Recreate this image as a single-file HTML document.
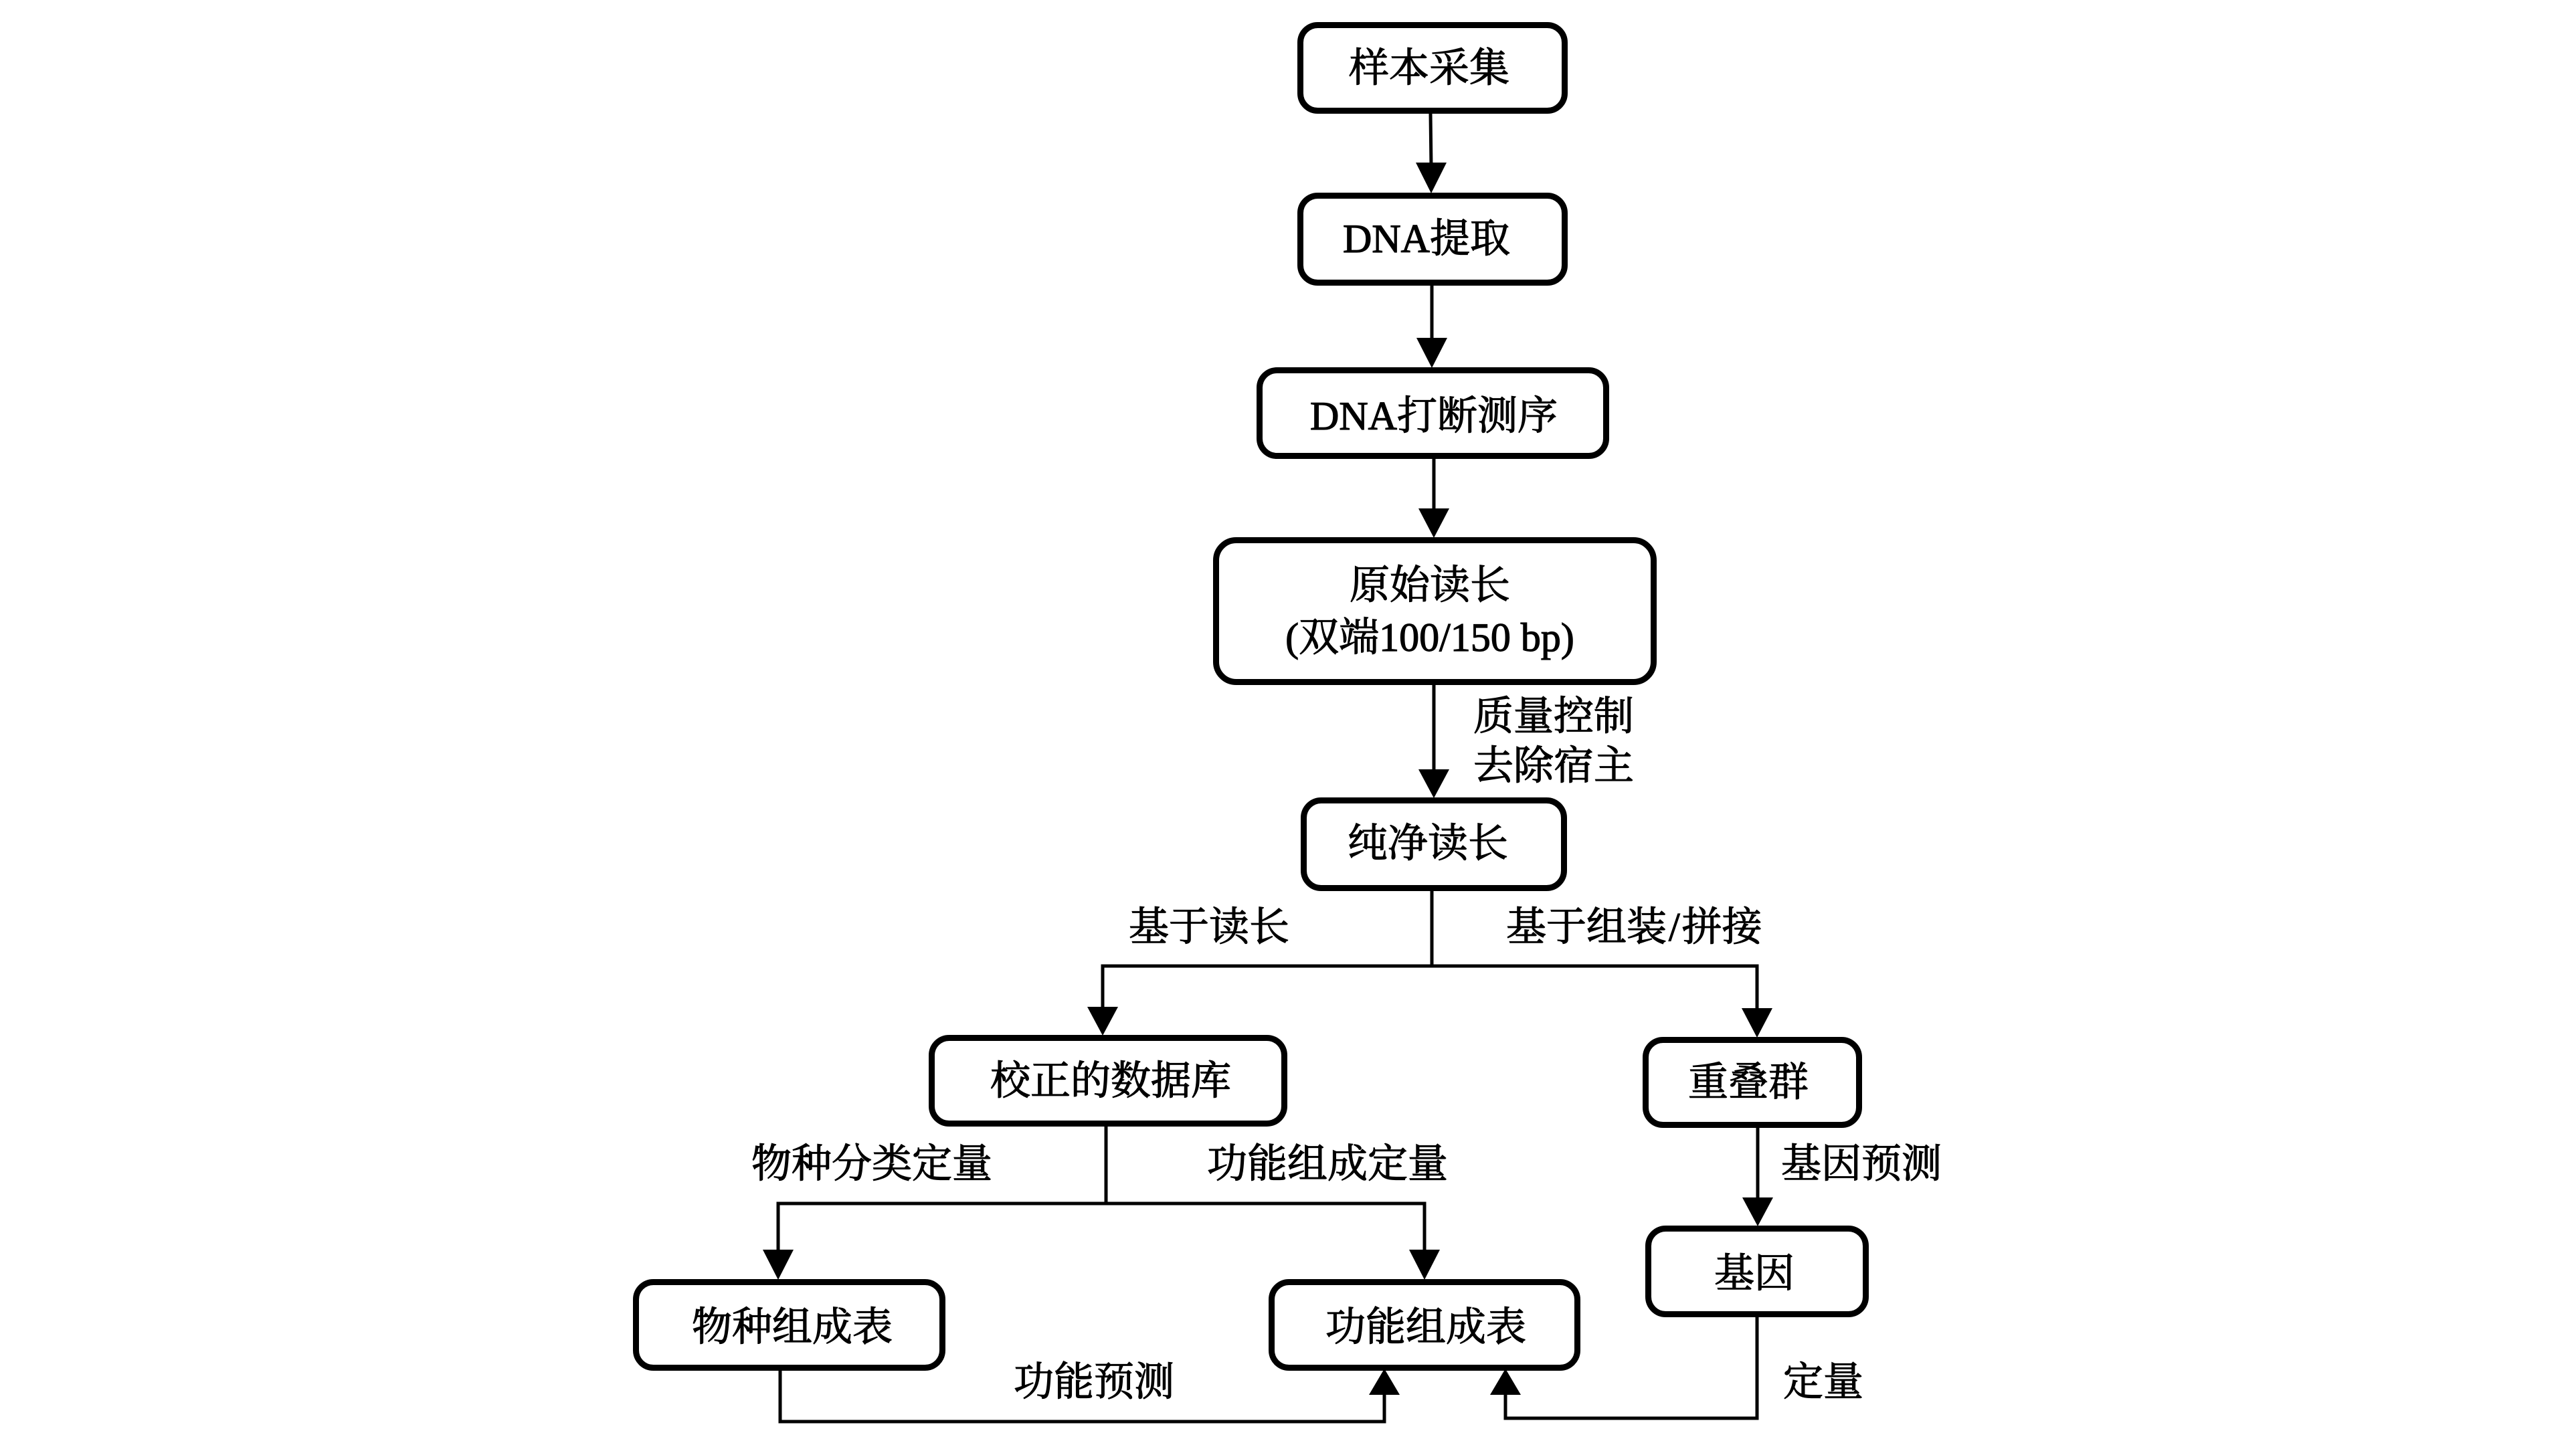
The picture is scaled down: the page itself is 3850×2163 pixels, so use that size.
<!DOCTYPE html>
<html>
<head>
<meta charset="utf-8">
<style>
  html, body { margin: 0; padding: 0; background: #fff; }
  body { width: 3850px; height: 2163px; overflow: hidden; }
  svg { display: block; }
  text { font-family: "Liberation Serif", "Noto Serif CJK SC", serif; font-size: 60px; fill: #000; stroke: #000; stroke-width: 1.2px; }
</style>
</head>
<body>
<svg width="3850" height="2163" viewBox="0 0 3850 2163" xmlns="http://www.w3.org/2000/svg">
  <rect x="0" y="0" width="3850" height="2163" fill="#fff"/>

  <!-- Boxes -->
  <g fill="#fff" stroke="#000" stroke-width="9">
    <rect x="1943.5" y="37.5" width="395" height="128" rx="26"/>
    <rect x="1943.5" y="292.5" width="395" height="130" rx="26"/>
    <rect x="1882.5" y="553.5" width="518" height="128" rx="26"/>
    <rect x="1817.5" y="807.5" width="654" height="212" rx="30"/>
    <rect x="1948.5" y="1196.5" width="389" height="131" rx="26"/>
    <rect x="1392.5" y="1551.5" width="527" height="128" rx="26"/>
    <rect x="2459.5" y="1554.5" width="319" height="127" rx="26"/>
    <rect x="950.5" y="1916.5" width="458" height="128" rx="26"/>
    <rect x="1900.5" y="1916.5" width="457" height="128" rx="26"/>
    <rect x="2463.5" y="1836.5" width="325" height="128" rx="26"/>
  </g>

  <!-- Connector lines -->
  <g stroke="#000" stroke-width="5" fill="none" stroke-linecap="square">
    <line x1="2138" y1="170" x2="2139" y2="250"/>
    <line x1="2140" y1="427" x2="2140" y2="510"/>
    <line x1="2143" y1="686" x2="2143" y2="765"/>
    <line x1="2143" y1="1024" x2="2143" y2="1155"/>
    <!-- split from 纯净读长 -->
    <line x1="2140" y1="1332" x2="2140" y2="1444"/>
    <line x1="1648" y1="1444" x2="2626" y2="1444"/>
    <line x1="1648" y1="1444" x2="1648" y2="1510"/>
    <line x1="2626" y1="1444" x2="2626" y2="1512"/>
    <!-- split from 校正的数据库 -->
    <line x1="1653" y1="1684" x2="1653" y2="1799"/>
    <line x1="1163" y1="1799" x2="2129" y2="1799"/>
    <line x1="1163" y1="1799" x2="1163" y2="1872"/>
    <line x1="2129" y1="1799" x2="2129" y2="1872"/>
    <!-- 重叠群 -> 基因 -->
    <line x1="2627" y1="1686" x2="2627" y2="1795"/>
    <!-- 物种组成表 -> 功能组成表 -->
    <line x1="1166" y1="2049" x2="1166" y2="2125"/>
    <line x1="1166" y1="2125" x2="2069" y2="2125"/>
    <line x1="2069" y1="2125" x2="2069" y2="2085"/>
    <!-- 基因 -> 功能组成表 -->
    <line x1="2626" y1="1969" x2="2626" y2="2120"/>
    <line x1="2250" y1="2120" x2="2626" y2="2120"/>
    <line x1="2250" y1="2120" x2="2250" y2="2085"/>
  </g>

  <!-- Arrowheads -->
  <g fill="#000">
    <polygon points="2116,243 2162,243 2139,289"/>
    <polygon points="2117,505 2163,505 2140,550"/>
    <polygon points="2120,760 2166,760 2143,804"/>
    <polygon points="2120,1150 2166,1150 2143,1193"/>
    <polygon points="1625,1505 1671,1505 1648,1548"/>
    <polygon points="2603,1507 2649,1507 2626,1551"/>
    <polygon points="1140,1868 1186,1868 1163,1913"/>
    <polygon points="2106,1868 2152,1868 2129,1913"/>
    <polygon points="2604,1790 2650,1790 2627,1833"/>
    <polygon points="2046,2085 2092,2085 2069,2046"/>
    <polygon points="2227,2085 2273,2085 2250,2046"/>
  </g>

  <!-- Box texts -->
  <g text-anchor="middle">
    <text x="2136" y="122">样本采集</text>
    <text x="2132" y="377">DNA提取</text>
    <text x="2143" y="642">DNA打断测序</text>
    <text x="2137" y="895">原始读长</text>
    <text x="2137" y="973">(双端100/150 bp)</text>
    <text x="2134" y="1281">纯净读长</text>
    <text x="1660" y="1636">校正的数据库</text>
    <text x="2613" y="1638">重叠群</text>
    <text x="1184" y="2004">物种组成表</text>
    <text x="2131" y="2004">功能组成表</text>
    <text x="2622" y="1924">基因</text>
  </g>

  <!-- Connector labels -->
  <g text-anchor="start">
    <text x="2202" y="1091">质量控制</text>
    <text x="2202" y="1165">去除宿主</text>
    <text x="1687" y="1406">基于读长</text>
    <text x="2251" y="1406">基于组装<tspan dx="3">/</tspan><tspan dx="3">拼接</tspan></text>
    <text x="1123" y="1760">物种分类定量</text>
    <text x="1804" y="1760">功能组成定量</text>
    <text x="2662" y="1760">基因预测</text>
    <text x="1515" y="2086">功能预测</text>
    <text x="2665" y="2086">定量</text>
  </g>
</svg>
</body>
</html>
